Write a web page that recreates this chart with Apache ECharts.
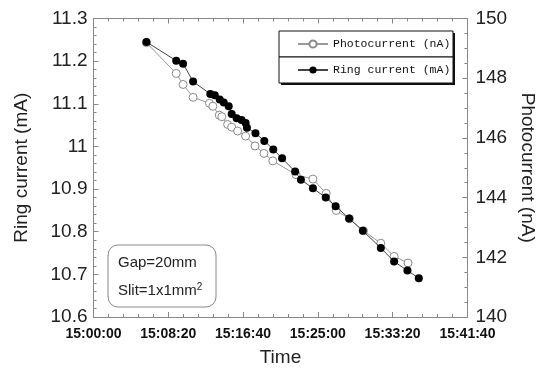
<!DOCTYPE html>
<html><head><meta charset="utf-8">
<script src="https://cdn.jsdelivr.net/npm/echarts@6/dist/echarts.min.js"></script>
<style>html,body{margin:0;padding:0;background:#fff}#c{width:545px;height:372px}</style>
</head><body><div id="c"></div>
<script>
const ringTimes = ['15:05:54','15:09:13','15:09:59','15:11:06','15:13:01','15:13:31','15:14:04','15:14:31','15:15:04','15:15:24','15:15:57','15:16:30','15:16:57','15:17:06','15:18:03','15:19:02','15:20:02','15:21:01','15:22:28','15:23:07','15:24:27','15:25:53','15:26:59','15:28:29','15:30:01','15:32:01','15:33:30','15:34:59','15:36:15'];
const ringValues = [11.245,11.201,11.194,11.152,11.123,11.120,11.110,11.103,11.094,11.076,11.066,11.062,11.055,11.044,11.031,11.013,10.993,10.972,10.941,10.922,10.902,10.880,10.860,10.831,10.802,10.762,10.730,10.709,10.691];
const photoTimes = ['15:05:54','15:09:13','15:09:59','15:11:06','15:12:55','15:13:18','15:14:01','15:14:18','15:14:57','15:15:24','15:16:04','15:16:57','15:18:00','15:19:00','15:19:59','15:22:34','15:24:27','15:25:56','15:27:03','15:28:32','15:30:05','15:32:01','15:33:30','15:35:03'];
const photoValues = [149.19,148.16,147.79,147.36,147.16,147.06,146.76,146.71,146.45,146.36,146.23,146.06,145.73,145.48,145.23,144.77,144.62,144.14,143.57,143.29,142.89,142.47,142.03,141.81];
const timeTickLabels = ['15:00:00','15:08:20','15:16:40','15:25:00','15:33:20','15:41:40'];
const ringTicks = ['10.6','10.7','10.8','10.9','11','11.1','11.2','11.3'];
const photoTicks = ['140','142','144','146','148','150'];

function toSec(s){const p=s.split(':').map(Number);return p[0]*3600+p[1]*60+p[2];}
function fmt(v){const h=Math.floor(v/3600),m=Math.floor((v%3600)/60),s=Math.round(v%60);const z=n=>String(n).padStart(2,'0');return z(h)+':'+z(m)+':'+z(s);}
const xMin = toSec(timeTickLabels[0]), xMax = toSec(timeTickLabels[timeTickLabels.length-1]);

const axisCol = '#888';
const chart = echarts.init(document.getElementById('c'), null, {renderer:'canvas'});
chart.setOption({
  animation:false,
  backgroundColor:'#fff',
  grid:{left:93.5,right:74,top:18.5,bottom:52.5,show:false},
  xAxis:[{
    type:'value',min:xMin,max:xMax,interval:500,position:'bottom',
    name:'Time',nameLocation:'middle',nameGap:31,
    nameTextStyle:{fontFamily:'Liberation Sans',fontSize:19,color:'#222'},
    axisLine:{lineStyle:{color:axisCol,width:1}},
    axisTick:{inside:true,length:5,lineStyle:{color:axisCol}},
    minorTick:{show:true,splitNumber:5,length:3,lineStyle:{color:axisCol}},
    splitLine:{show:false},
    axisLabel:{formatter:v=>fmt(v),fontFamily:'Liberation Sans',fontWeight:'bold',fontSize:14,color:'#111',margin:10}
  },{
    type:'value',min:xMin,max:xMax,interval:500,position:'top',
    axisLine:{lineStyle:{color:axisCol,width:1}},
    axisTick:{inside:true,length:5,lineStyle:{color:axisCol}},
    minorTick:{show:true,splitNumber:5,length:3,lineStyle:{color:axisCol}},
    splitLine:{show:false},axisLabel:{show:false}
  }],
  yAxis:[{
    type:'value',min:+ringTicks[0],max:+ringTicks[ringTicks.length-1],interval:0.1,position:'left',
    name:'Ring current (mA)',nameLocation:'middle',nameGap:62,nameRotate:90,
    nameTextStyle:{fontFamily:'Liberation Sans',fontSize:19,color:'#222'},
    axisLine:{show:true,lineStyle:{color:axisCol,width:1}},
    axisTick:{inside:true,length:5,lineStyle:{color:axisCol}},
    minorTick:{show:true,splitNumber:5,length:3,lineStyle:{color:axisCol}},
    splitLine:{show:false},
    axisLabel:{formatter:v=>ringTicks.find(t=>Math.abs(+t-v)<1e-6)||'',fontFamily:'Liberation Sans',fontSize:19,color:'#222',margin:6}
  },{
    type:'value',min:+photoTicks[0],max:+photoTicks[photoTicks.length-1],interval:2,position:'right',
    name:'Photocurrent (nA)',nameLocation:'middle',nameGap:48,nameRotate:-90,
    nameTextStyle:{fontFamily:'Liberation Sans',fontSize:19,color:'#222'},
    axisLine:{show:true,lineStyle:{color:axisCol,width:1}},
    axisTick:{inside:true,length:5,lineStyle:{color:axisCol}},
    minorTick:{show:true,splitNumber:4,length:3,lineStyle:{color:axisCol}},
    splitLine:{show:false},
    axisLabel:{fontFamily:'Liberation Sans',fontSize:19,color:'#222',margin:8}
  }],
  legend:{
    orient:'vertical',left:297,top:38,padding:0,itemWidth:30,itemHeight:9,itemGap:14,z:10,
    textStyle:{fontFamily:'Liberation Mono',fontSize:11.5,color:'#111'},
    data:['Photocurrent (nA)','Ring current (mA)']
  },
  graphic:[
    {type:'rect',z:1,shape:{x:281,y:33,width:174,height:26},style:{fill:'#111'}},
    {type:'rect',z:2,shape:{x:279,y:31,width:174,height:26},style:{fill:'#fff',stroke:'#111',lineWidth:1}},
    {type:'rect',z:1,shape:{x:281,y:59,width:174,height:26},style:{fill:'#111'}},
    {type:'rect',z:2,shape:{x:279,y:57,width:174,height:26},style:{fill:'#fff',stroke:'#111',lineWidth:1}},
    {type:'rect',z:2,shape:{x:108,y:245,width:108,height:62,r:10},style:{fill:'#fff',stroke:'#888',lineWidth:1}},
    {type:'text',z:3,left:118,top:255,style:{text:'Gap=20mm',font:'15px "Liberation Sans"',fill:'#222'}},
    {type:'text',z:3,left:118,top:282,style:{text:'Slit=1x1mm{s|2}',font:'15px "Liberation Sans"',fill:'#222',rich:{s:{fontSize:10,verticalAlign:'top',padding:[0,0,8,0],fontFamily:'Liberation Sans',fill:'#222'}}}}
  ],
  series:[{
    name:'Photocurrent (nA)',type:'line',xAxisIndex:0,yAxisIndex:1,
    data:photoTimes.map((t,i)=>[toSec(t),photoValues[i]]),
    symbol:'circle',symbolSize:8,
    itemStyle:{color:'#fff',borderColor:'#8a8a8a',borderWidth:1},
    lineStyle:{color:'#999',width:1},z:2
  },{
    name:'Ring current (mA)',type:'line',xAxisIndex:0,yAxisIndex:0,
    data:ringTimes.map((t,i)=>[toSec(t),ringValues[i]]),
    symbol:'circle',symbolSize:8,
    itemStyle:{color:'#000',borderColor:'#000',borderWidth:0},
    lineStyle:{color:'#444',width:1},z:3
  }]
});
</script></body></html>
